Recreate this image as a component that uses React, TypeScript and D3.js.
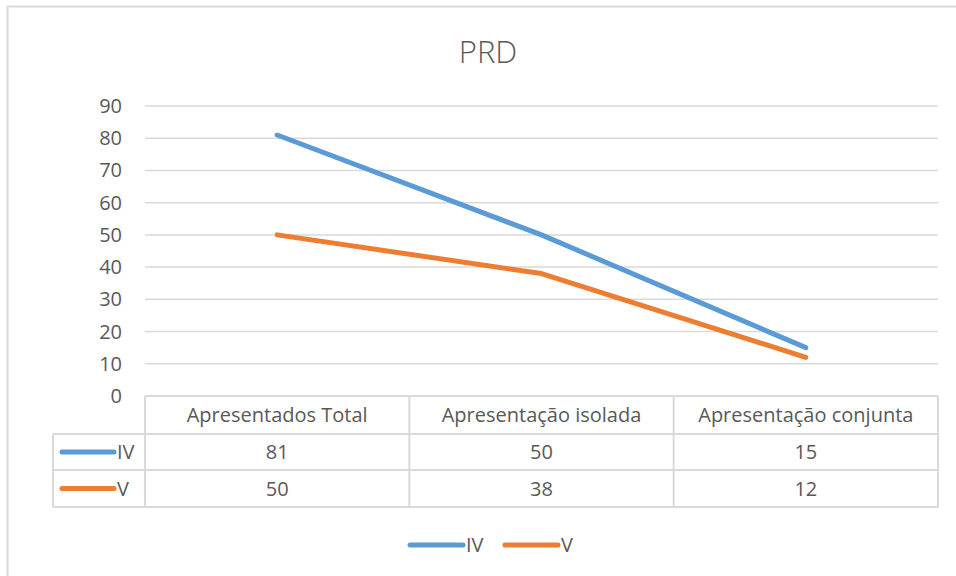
import { useEffect, useRef } from 'react'
import * as d3 from 'd3'

const categories = ['Apresentados Total', 'Apresentação isolada', 'Apresentação conjunta']
const seriesNames = ['IV', 'V']
const seriesIV = [81, 50, 15]
const seriesV = [50, 38, 12]
const yTicks = [0, 10, 20, 30, 40, 50, 60, 70, 80, 90]
const colors = ['#5b9bd5', '#ed7d31']

const W = 956
const H = 576

const App = () => {
  const ref = useRef<SVGSVGElement>(null)

  useEffect(() => {
    if (!ref.current) return
    const svg = d3.select(ref.current)
    svg.selectAll('*').remove()

    const font = "'Open Sans', sans-serif"
    const fs = '20px'
    const textColor = '#595959'
    const gridColor = '#d9d9d9'
    const left = 145, right = 938, top = 106, bottom = 396
    const rowH = [38, 36, 37]
    const tableLeft = 53

    // chart frame
    svg.append('line').attr('x1', 7).attr('x2', W).attr('y1', 6.5).attr('y2', 6.5)
      .attr('stroke', gridColor).attr('stroke-width', 2)
    svg.append('line').attr('x1', 7.5).attr('x2', 7.5).attr('y1', 6).attr('y2', H)
      .attr('stroke', gridColor).attr('stroke-width', 2)

    svg.append('text').text('PRD')
      .attr('x', 488).attr('y', 52).attr('dy', '0.35em').attr('text-anchor', 'middle')
      .style('font-family', font).style('font-size', '31px').style('font-weight', 300)
      .attr('fill', textColor)

    const x = d3.scaleBand().domain(categories).range([left, right])
    const y = d3.scaleLinear().domain([0, 90]).range([bottom, top])

    svg.append('g').selectAll('line').data(yTicks.filter(d => d > 0)).enter().append('line')
      .attr('x1', left).attr('x2', right)
      .attr('y1', d => y(d)).attr('y2', d => y(d))
      .attr('stroke', gridColor).attr('stroke-width', 1.5)

    svg.append('g').selectAll('text').data(yTicks).enter().append('text')
      .text(d => d)
      .attr('x', 122).attr('y', d => y(d)).attr('dy', '0.35em')
      .attr('text-anchor', 'end')
      .style('font-family', font).style('font-size', fs)
      .attr('fill', textColor)

    const line = d3.line<number>()
      .x((d, i) => x(categories[i])! + x.bandwidth() / 2)
      .y(d => y(d))

    ;[seriesIV, seriesV].forEach((s, k) => {
      svg.append('path').datum(s)
        .attr('d', line)
        .attr('fill', 'none')
        .attr('stroke', colors[k])
        .attr('stroke-width', 5)
        .attr('stroke-linecap', 'round')
        .attr('stroke-linejoin', 'round')
    })

    // data table
    const t = svg.append('g')
    const rowY = [bottom, bottom + rowH[0], bottom + rowH[0] + rowH[1], bottom + rowH[0] + rowH[1] + rowH[2]]
    const stroke = (x1: number, y1: number, x2: number, y2: number) =>
      t.append('line').attr('x1', x1).attr('y1', y1).attr('x2', x2).attr('y2', y2)
        .attr('stroke', gridColor).attr('stroke-width', 2)

    stroke(left, rowY[0], right, rowY[0])
    stroke(tableLeft, rowY[1], right, rowY[1])
    stroke(tableLeft, rowY[2], right, rowY[2])
    stroke(tableLeft, rowY[3], right, rowY[3])
    stroke(tableLeft, rowY[1], tableLeft, rowY[3])
    categories.forEach(c => stroke(x(c)!, rowY[0], x(c)!, rowY[3]))
    stroke(right, rowY[0], right, rowY[3])

    t.selectAll('text.cat').data(categories).enter().append('text')
      .text(d => d)
      .attr('x', d => x(d)! + x.bandwidth() / 2)
      .attr('y', (rowY[0] + rowY[1]) / 2).attr('dy', '0.35em')
      .attr('text-anchor', 'middle')
      .style('font-family', font).style('font-size', fs)
      .attr('fill', textColor)

    ;[seriesIV, seriesV].forEach((s, k) => {
      const cy = (rowY[k + 1] + rowY[k + 2]) / 2
      t.append('line').attr('x1', 62).attr('x2', 114).attr('y1', cy).attr('y2', cy)
        .attr('stroke', colors[k]).attr('stroke-width', 5).attr('stroke-linecap', 'round')
      t.append('text').text(seriesNames[k])
        .attr('x', 117).attr('y', cy).attr('dy', '0.35em')
        .style('font-family', font).style('font-size', fs)
        .attr('fill', textColor)
      s.forEach((v, i) => {
        t.append('text').text(v)
          .attr('x', x(categories[i])! + x.bandwidth() / 2)
          .attr('y', cy).attr('dy', '0.35em')
          .attr('text-anchor', 'middle')
          .style('font-family', font).style('font-size', fs)
          .attr('fill', textColor)
      })
    })

    // legend
    const legendX = [410, 505]
    seriesNames.forEach((n, k) => {
      const lg = svg.append('g').attr('transform', `translate(${legendX[k]},545)`)
      lg.append('line').attr('x1', 0).attr('x2', 53).attr('stroke', colors[k])
        .attr('stroke-width', 5).attr('stroke-linecap', 'round')
      lg.append('text').text(n).attr('x', 56).attr('dy', '0.35em')
        .style('font-family', font).style('font-size', fs)
        .attr('fill', textColor)
    })
  }, [])

  return (
    <svg ref={ref} width={W} height={H}
      style={{ position: 'absolute', left: 0, top: 0, background: '#fff' }} />
  )
}

export default App
